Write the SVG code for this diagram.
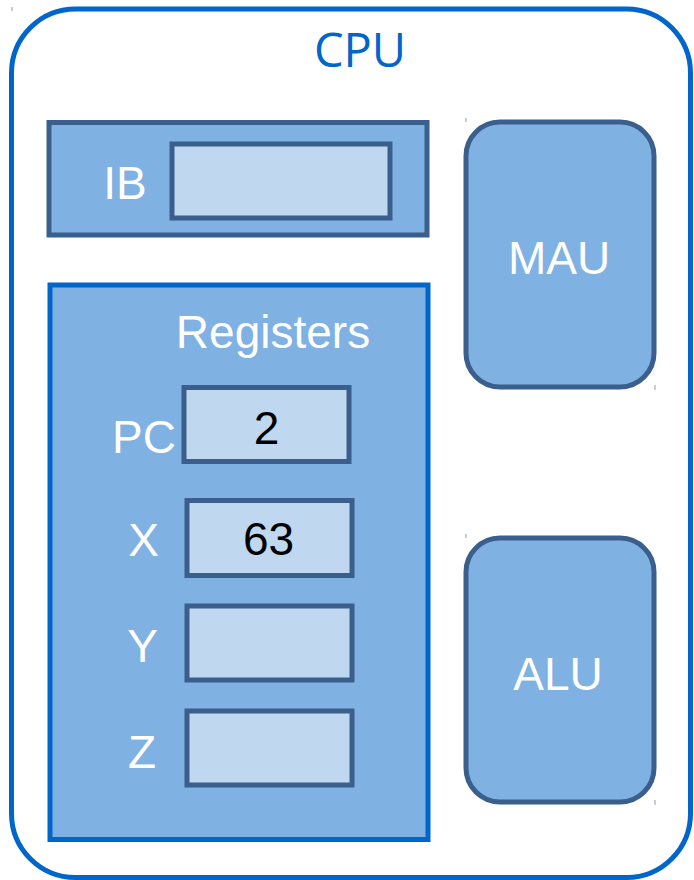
<svg xmlns="http://www.w3.org/2000/svg" width="694" height="880" viewBox="0 0 694 880">
  <style>
    .cpu { fill: #ffffff; stroke: #0066cc; stroke-width: 5; }
    .block { fill: #7fb1e3; stroke: #3b5f8c; stroke-width: 5; }
    .regs { fill: #7fb1e3; stroke: #0066cc; stroke-width: 5; }
    .cell { fill: #bfd8f0; stroke: #3b5f8c; stroke-width: 5; }
    .lbl { font-family: "Liberation Sans", Arial, sans-serif; font-size: 46px; fill: #ffffff; }
    .val { font-family: "Liberation Sans", Arial, sans-serif; font-size: 46px; fill: #000000; text-anchor: middle; }
    .title { font-family: "Open Sans", "DejaVu Sans", sans-serif; font-size: 47px; fill: #0066cc; text-anchor: middle; }
    .tick { stroke: #8c9bb0; stroke-width: 1; }
  </style>

  <!-- CPU enclosure -->
  <g id="cpu">
    <rect class="cpu" x="11.5" y="9" width="679" height="868.5" rx="64" ry="64"/>
    <text class="title" x="360" y="67">CPU</text>
    <line class="tick" x1="12" y1="7" x2="12" y2="11"/>
  </g>

  <!-- Instruction buffer -->
  <g id="ib">
    <rect class="block" x="49" y="122.5" width="378" height="112.5"/>
    <rect class="cell" x="172" y="144" width="218" height="74"/>
    <text class="lbl" x="125" y="199" text-anchor="middle">IB</text>
  </g>

  <!-- Register file -->
  <g id="registers">
    <rect class="regs" x="50" y="285" width="378" height="554.5"/>
    <text class="lbl" x="273" y="348" text-anchor="middle">Registers</text>
  </g>

  <g id="reg-pc">
    <rect class="cell" x="184" y="387.5" width="165" height="74"/>
    <text class="lbl" x="176" y="453" text-anchor="end">PC</text>
    <text class="val" x="266.5" y="444">2</text>
  </g>

  <g id="reg-x">
    <rect class="cell" x="187" y="500.5" width="165" height="75"/>
    <text class="lbl" x="143.5" y="556" text-anchor="middle">X</text>
    <text class="val" x="268.5" y="555">63</text>
  </g>

  <g id="reg-y">
    <rect class="cell" x="187" y="606" width="165" height="74"/>
    <text class="lbl" x="142.5" y="662" text-anchor="middle">Y</text>
  </g>

  <g id="reg-z">
    <rect class="cell" x="187" y="711" width="165" height="74"/>
    <text class="lbl" x="142" y="768" text-anchor="middle">Z</text>
  </g>

  <!-- Memory access unit -->
  <g id="mau">
    <rect class="block" x="466" y="122" width="188" height="265" rx="34" ry="34"/>
    <text class="lbl" x="559" y="274" text-anchor="middle">MAU</text>
    <line class="tick" x1="466" y1="118" x2="466" y2="122"/>
    <line class="tick" x1="655" y1="385" x2="655" y2="390"/>
  </g>

  <!-- Arithmetic logic unit -->
  <g id="alu">
    <rect class="block" x="466" y="538" width="188" height="264" rx="34" ry="34"/>
    <text class="lbl" x="558" y="690" text-anchor="middle">ALU</text>
    <line class="tick" x1="466" y1="534" x2="466" y2="538"/>
    <line class="tick" x1="655" y1="800" x2="655" y2="805"/>
  </g>

  <g id="connectors"></g>
</svg>
